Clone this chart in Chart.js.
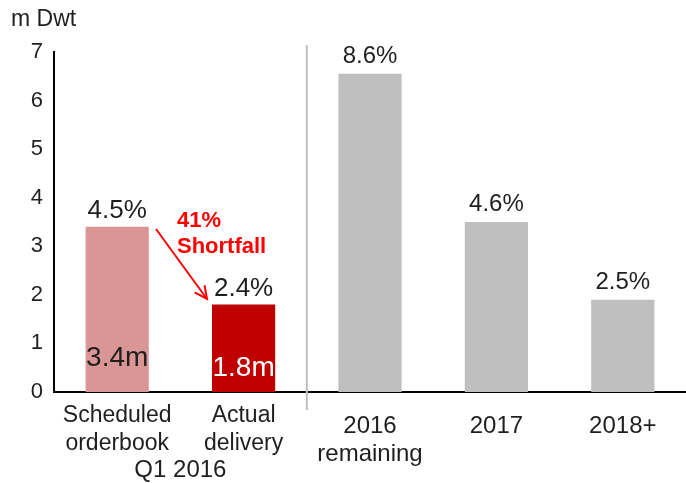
<!DOCTYPE html>
<html>
<head>
<meta charset="utf-8">
<script src="https://cdn.jsdelivr.net/npm/chart.js@4/dist/chart.umd.min.js"></script>
<style>
  html, body { margin: 0; padding: 0; background: #fff; }
  #wrap { width: 686px; height: 483px; }
</style>
</head>
<body>
<div id="wrap"><canvas id="chart"></canvas></div>
<script>
const categories = [['Scheduled', 'orderbook'], ['Actual', 'delivery'], ['2016', 'remaining'], ['2017'], ['2018+']];
const values = [3.4, 1.8, 6.55, 3.5, 1.9];
const shareLabels = ['4.5%', '2.4%', '8.6%', '4.6%', '2.5%'];
const innerLabels = ['3.4m', '1.8m', '', '', ''];
const groupLabel = 'Q1 2016';
const yTicks = [0, 1, 2, 3, 4, 5, 6, 7];
const barColors = ['#d99694', '#c00000', '#bfbfbf', '#bfbfbf', '#bfbfbf'];

const FONT = 'Liberation Sans, Arial, sans-serif';
const TEXT = '#1f1f1f';

const extras = {
    id: 'extras',
    afterDatasetsDraw(chart) {
        const { ctx, scales: { x, y } } = chart;
        ctx.save();
        ctx.textAlign = 'center';
        ctx.textBaseline = 'alphabetic';

        values.forEach((v, i) => {
            const cx = x.getPixelForValue(i);
            const left = i < 2;

            ctx.fillStyle = TEXT;
            ctx.font = (left ? 26 : 24) + 'px ' + FONT;
            ctx.fillText(shareLabels[i], cx, y.getPixelForValue(v) - (left ? 9 : 11));

            if (innerLabels[i]) {
                ctx.font = '28px ' + FONT;
                ctx.fillStyle = i === 1 ? '#fff' : TEXT;
                ctx.fillText(innerLabels[i], cx, i === 1 ? 376 : 366);
            }

            // category labels, first group sits a bit higher
            ctx.fillStyle = TEXT;
            ctx.font = (left ? 23 : 24) + 'px ' + FONT;
            const base = left ? 422 : 433;
            categories[i].forEach((line, k) => ctx.fillText(line, cx, base + k * 28));
        });

        // group label under first two bars
        const gx = (x.getPixelForValue(0) + x.getPixelForValue(1)) / 2;
        ctx.font = '24px ' + FONT;
        ctx.fillText(groupLabel, gx, 477);

        // divider
        const dx = (x.getPixelForValue(1) + x.getPixelForValue(2)) / 2;
        ctx.strokeStyle = '#bfbfbf';
        ctx.lineWidth = 2;
        ctx.beginPath();
        ctx.moveTo(dx, 45);
        ctx.lineTo(dx, 410);
        ctx.stroke();

        // shortfall note
        ctx.fillStyle = '#ff0000';
        ctx.font = 'bold 22px ' + FONT;
        ctx.textAlign = 'left';
        ctx.fillText('41%', 177, 227);
        ctx.fillText('Shortfall', 177, 253);

        // arrow
        const x0 = 156, y0 = 229, x1 = 207, y1 = 299;
        ctx.strokeStyle = '#ff0000';
        ctx.lineWidth = 2;
        ctx.beginPath();
        ctx.moveTo(x0, y0);
        ctx.lineTo(x1, y1);
        ctx.stroke();
        const a = Math.atan2(y1 - y0, x1 - x0);
        ctx.beginPath();
        ctx.moveTo(x1 - 14 * Math.cos(a - 0.45), y1 - 14 * Math.sin(a - 0.45));
        ctx.lineTo(x1, y1);
        ctx.lineTo(x1 - 14 * Math.cos(a + 0.45), y1 - 14 * Math.sin(a + 0.45));
        ctx.stroke();

        // unit label
        ctx.fillStyle = TEXT;
        ctx.font = '23px ' + FONT;
        ctx.fillText('m Dwt', 11, 26);

        ctx.restore();
    },
};

new Chart('chart', {
    type: 'bar',
    data: {
        labels: categories.map(c => c.join(' ')),
        datasets: [{
            data: values,
            backgroundColor: barColors,
            barPercentage: 0.5,
            categoryPercentage: 1,
        }],
    },
    options: {
        responsive: true,
        maintainAspectRatio: false,
        animation: false,
        layout: {
            padding: { top: 52, bottom: 91, left: 0, right: 0 },
        },
        plugins: {
            legend: { display: false },
            tooltip: { enabled: false },
        },
        scales: {
            x: {
                grid: { display: false, drawTicks: false },
                border: { color: '#000', width: 2 },
                ticks: { display: false },
                afterFit: s => { s.height = 0; },
            },
            y: {
                min: 0,
                max: 7,
                afterBuildTicks: s => { s.ticks = yTicks.map(v => ({ value: v })); },
                grid: { display: false, drawTicks: false },
                border: { color: '#000', width: 2 },
                ticks: {
                    padding: 11,
                    color: TEXT,
                    font: { family: FONT, size: 22 },
                },
                afterFit: s => { s.width = 54; },
            },
        },
    },
    plugins: [extras],
});
</script>
</body>
</html>
